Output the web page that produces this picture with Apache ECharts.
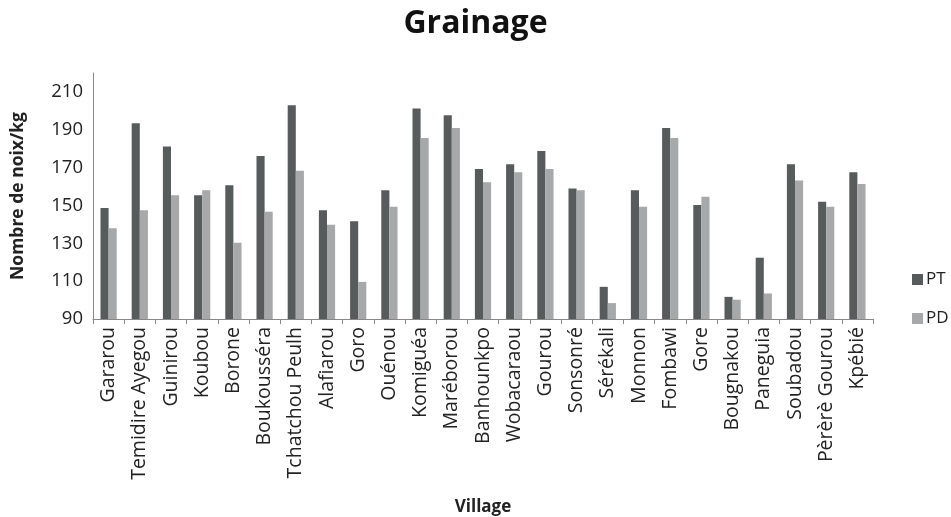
<!DOCTYPE html>
<html>
<head>
<meta charset="utf-8">
<script src="https://cdn.jsdelivr.net/npm/echarts@6/dist/echarts.min.js"></script>
<style>
html, body { margin: 0; padding: 0; background: #fff; }
#main { width: 951px; height: 517px; }
</style>
</head>
<body>
<div id="main"></div>
<script>
const villages = ['Gararou', 'Temidire Ayegou', 'Guinirou', 'Koubou', 'Borone', 'Boukousséra',
    'Tchatchou Peulh', 'Alafiarou', 'Goro', 'Ouénou', 'Komiguéa', 'Maréborou', 'Banhounkpo',
    'Wobacaraou', 'Gourou', 'Sonsonré', 'Sérékali', 'Monnon', 'Fombawi', 'Gore', 'Bougnakou',
    'Paneguia', 'Soubadou', 'Pèrèrè Gourou', 'Kpébié'];
const pt = [148.6, 193.5, 181.2, 155.4, 160.7, 176.1, 203, 147.5, 141.6, 158, 201.2, 197.7, 169.3,
    171.8, 178.8, 158.9, 107, 158, 190.9, 150.2, 101.7, 122.4, 171.8, 151.9, 167.5];
const pd = [138, 147.5, 155.4, 158, 130.3, 146.7, 168.4, 139.8, 109.6, 149.3, 185.6, 190.9, 162.3,
    167.5, 169.3, 158, 98.4, 149.3, 185.6, 154.6, 100.2, 103.5, 163.2, 149.3, 161.4];
const yLabels = [90, 110, 130, 150, 170, 190, 210];

const font = '"Open Sans", sans-serif';
const myChart = echarts.init(document.getElementById('main'));

const option = {
    animation: false,
    backgroundColor: '#fff',
    color: ['#575b5c', '#a6a8a9'],
    title: {
        text: 'Grainage',
        left: 'center',
        top: 3,
        textStyle: { fontFamily: font, fontSize: 32, fontWeight: 'bold', color: '#111' }
    },
    legend: {
        orient: 'vertical',
        left: 907,
        top: 266,
        itemWidth: 11,
        itemHeight: 11,
        itemGap: 22,
        icon: 'rect',
        textStyle: { fontFamily: font, fontSize: 17, color: '#222', padding: [0, 0, 0, -2] },
        data: ['PT', 'PD']
    },
    grid: { left: 93, right: 78, top: 73, bottom: 197 },
    xAxis: {
        type: 'category',
        data: villages,
        name: 'Village',
        nameLocation: 'middle',
        nameGap: 180,
        nameTextStyle: { fontFamily: font, fontSize: 17, fontWeight: 'bold', color: '#222' },
        axisLine: { lineStyle: { color: '#888', width: 1 } },
        axisTick: { show: true, alignWithLabel: false, length: 5, lineStyle: { color: '#888' } },
        axisLabel: { rotate: 90, fontFamily: font, fontSize: 19.5, color: '#222', margin: 8, interval: 0 }
    },
    yAxis: {
        type: 'value',
        min: 90,
        max: 220,
        interval: 10,
        name: 'Nombre de noix/kg',
        nameLocation: 'middle',
        nameGap: 66,
        nameTextStyle: { fontFamily: font, fontSize: 17.5, fontWeight: 'bold', color: '#222' },
        axisLine: { show: true, lineStyle: { color: '#888', width: 1 } },
        axisTick: { show: false },
        splitLine: { show: false },
        axisLabel: {
            fontFamily: font, fontSize: 18.5, color: '#222', margin: 10,
            formatter: v => yLabels.indexOf(v) >= 0 ? String(v) : ''
        }
    },
    series: [
        { name: 'PT', type: 'bar', data: pt, barGap: '0%', barCategoryGap: '48%' },
        { name: 'PD', type: 'bar', data: pd, barGap: '0%', barCategoryGap: '48%' }
    ]
};

myChart.setOption(option);
</script>
</body>
</html>
